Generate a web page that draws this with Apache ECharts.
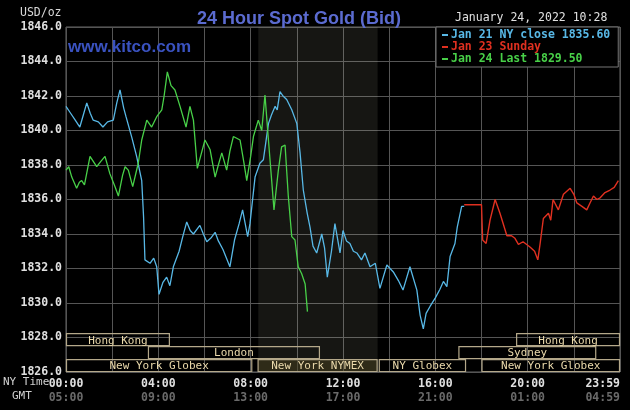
<!DOCTYPE html>
<html>
<head>
<meta charset="utf-8">
<script src="https://cdn.jsdelivr.net/npm/echarts@6/dist/echarts.min.js"></script>
<style>
html,body{margin:0;padding:0;background:#000;}
#c{width:630px;height:410px;}
</style>
</head>
<body>
<div id="c"></div>
<script>
// ---------- DATA ----------
const nyTickLabels  = ['00:00','04:00','08:00','12:00','16:00','20:00','23:59'];
const gmtTickLabels = ['05:00','09:00','13:00','17:00','21:00','01:00','04:59'];

const blueName = 'Jan 21 NY close 1835.60';
const redName = 'Jan 23 Sunday';
const greenName = 'Jan 24 Last 1829.50';

const blueHours = [0,0.2,0.4,0.6,0.75,0.9,1.05,1.18,1.4,1.6,1.8,2.05,2.2,2.34,2.5,2.6,2.85,3.06,3.28,3.36,3.42,3.64,3.8,3.93,4.03,4.2,4.36,4.5,4.65,4.9,5.05,5.23,5.38,5.52,5.8,5.95,6.1,6.3,6.46,6.6,6.8,7.1,7.3,7.5,7.65,7.87,7.97,8.19,8.4,8.55,8.77,8.9,9.06,9.15,9.27,9.4,9.56,9.78,10.0,10.14,10.28,10.45,10.57,10.7,10.86,11.08,11.2,11.32,11.5,11.65,11.87,12.0,12.15,12.3,12.45,12.6,12.8,12.95,13.17,13.4,13.6,13.9,14.18,14.4,14.6,14.9,15.2,15.34,15.48,15.6,15.77,16.0,16.2,16.35,16.5,16.64,16.85,16.95,17.14,17.25];
const blueValues = [1841.4,1841.0,1840.6,1840.2,1840.9,1841.6,1841.0,1840.6,1840.5,1840.2,1840.5,1840.6,1841.6,1842.35,1841.3,1840.8,1839.6,1838.5,1837.1,1835.0,1832.5,1832.3,1832.6,1832.1,1830.5,1831.2,1831.5,1831.0,1832.1,1833.0,1833.8,1834.7,1834.2,1834.0,1834.5,1834.0,1833.55,1833.8,1834.1,1833.6,1833.1,1832.1,1833.65,1834.6,1835.4,1833.85,1834.6,1837.3,1838.1,1838.3,1840.4,1840.9,1841.4,1841.2,1842.25,1842.0,1841.8,1841.2,1840.4,1838.7,1836.55,1835.2,1834.4,1833.3,1832.9,1834.0,1833.2,1831.5,1833.0,1834.6,1832.9,1834.2,1833.6,1833.45,1833.0,1832.9,1832.5,1832.9,1832.1,1832.3,1830.85,1832.2,1831.8,1831.3,1830.75,1832.1,1830.75,1829.3,1828.5,1829.4,1829.8,1830.3,1830.8,1831.25,1830.95,1832.7,1833.45,1834.4,1835.6,1835.6];

const redHours = [17.25,18.0,18.05,18.2,18.37,18.59,18.8,19.1,19.3,19.45,19.6,19.8,20.1,20.3,20.44,20.54,20.68,20.9,21.0,21.1,21.33,21.55,21.84,22.0,22.13,22.35,22.56,22.7,22.85,23.0,23.14,23.35,23.57,23.75,23.93];
const redValues = [1835.7,1835.7,1833.65,1833.45,1834.8,1836.0,1835.2,1833.9,1833.9,1833.75,1833.4,1833.55,1833.25,1833.0,1832.5,1833.45,1834.9,1835.2,1834.8,1836.0,1835.4,1836.3,1836.65,1836.3,1835.8,1835.6,1835.4,1835.8,1836.2,1836.0,1836.1,1836.4,1836.55,1836.7,1837.1];

const greenHours = [0,0.12,0.25,0.46,0.58,0.68,0.8,1.04,1.33,1.5,1.69,1.9,2.12,2.27,2.45,2.56,2.7,2.89,3.13,3.28,3.5,3.71,3.93,4.15,4.25,4.39,4.55,4.72,4.94,5.2,5.37,5.52,5.69,5.85,6.02,6.24,6.46,6.6,6.75,6.96,7.1,7.25,7.54,7.7,7.83,8.0,8.12,8.33,8.48,8.62,8.77,8.91,9.01,9.1,9.2,9.34,9.49,9.63,9.78,9.92,10.06,10.21,10.36,10.46];
const greenValues = [1837.7,1837.9,1837.3,1836.65,1837.0,1837.1,1836.85,1838.5,1837.9,1838.2,1838.5,1837.5,1836.75,1836.2,1837.4,1837.9,1837.7,1836.75,1838.1,1839.45,1840.6,1840.2,1840.8,1841.2,1842.0,1843.4,1842.6,1842.35,1841.4,1840.2,1841.4,1840.6,1837.8,1838.6,1839.45,1838.9,1837.3,1838.0,1838.7,1837.7,1838.8,1839.65,1839.45,1838.2,1837.1,1838.5,1839.65,1840.6,1840.0,1842.05,1839.45,1837.1,1835.4,1836.5,1837.7,1839.05,1839.15,1836.2,1833.85,1833.65,1832.1,1831.7,1831.1,1829.5];

// trading sessions (NY time hours), row 0 = top
const sessionNames = ['Hong Kong','London','New York Globex','New York NYMEX','NY Globex','New York Globex','Sydney','Hong Kong'];
const sessionStart = [0,3.55,0,8.3,13.55,18.0,17.0,19.5];
const sessionEnd   = [4.5,11.0,8.07,13.5,17.33,24,22.97,24];
const sessionRow   = [0,1,2,2,2,2,1,0];
const nymexStart = 8.33, nymexEnd = 13.5;

// ---------- CHART ----------
const mono = '"DejaVu Sans Mono", "Liberation Mono", monospace';
const zip = (a,b) => a.map((h,i)=>[h,b[i]]);
const chart = echarts.init(document.getElementById('c'), null, {renderer:'canvas'});

const sessionData = sessionNames.map((n,i)=>[sessionStart[i],sessionEnd[i],sessionRow[i],n]);

const option = {
  backgroundColor:'#000',
  animation:false,
  title:{
    text:'24 Hour Spot Gold (Bid)', left:294, top:5, textAlign:'center',
    textStyle:{color:'#5b6bd0', fontSize:18, fontWeight:'bold', fontFamily:'"Liberation Sans", Arial, sans-serif'}
  },
  graphic:[
    {type:'text', left:20, top:7, style:{text:'USD/oz', fill:'#d8d8d8', font:'11.5px '+mono}},
    {type:'text', left:455, top:12, style:{text:'January 24, 2022 10:28', fill:'#e0e0e0', font:'11.5px '+mono}},
    {type:'text', left:68, top:39, z:1, style:{text:'www.kitco.com', fill:'#3a52c0', font:'bold 17px "Liberation Sans", Arial, sans-serif'}},
    {type:'text', left:3, top:377, style:{text:'NY Time', fill:'#d0d0d0', font:'11px '+mono}},
    {type:'text', left:12, top:391, style:{text:'GMT', fill:'#d0d0d0', font:'11px '+mono}}
  ],
  legend:{
    orient:'vertical', left:436, top:27, selectedMode:false,
    backgroundColor:'#000', borderColor:'#777', borderWidth:1,
    padding:[2,8,2,6], itemGap:0, itemWidth:6, itemHeight:2, icon:'rect',
    textStyle:{fontFamily:mono, fontSize:11.5, fontWeight:'bold', lineHeight:12, padding:[0,0,0,-2]},
    data:[
      {name:blueName, textStyle:{color:'#58b8e6'}},
      {name:redName, textStyle:{color:'#e03020'}},
      {name:greenName, textStyle:{color:'#48d048'}}
    ]
  },
  grid:{left:66, right:10, top:27, bottom:38, show:true, borderColor:'#666', borderWidth:1},
  xAxis:{
    type:'value', min:0, max:24, interval:2,
    axisLine:{show:false}, axisTick:{show:false},
    splitLine:{show:true, lineStyle:{color:'#555', width:1}},
    axisLabel:{
      margin:5, alignMaxLabel:'right',
      formatter:function(v){
        if (v % 4 !== 0) return '';
        const i = v/4;
        return '{t|'+nyTickLabels[i]+'}\n{g|'+gmtTickLabels[i]+'}';
      },
      rich:{
        t:{color:'#e0e0e0', fontFamily:mono, fontSize:11.5, fontWeight:'bold', lineHeight:14},
        g:{color:'#6a6a6a', fontFamily:mono, fontSize:11.5, fontWeight:'bold', lineHeight:14}
      }
    }
  },
  yAxis:{
    type:'value', min:1826, max:1846, interval:2,
    axisLine:{show:false}, axisTick:{show:false},
    splitLine:{show:true, lineStyle:{color:'#555', width:1}},
    axisLabel:{margin:4, color:'#e0e0e0', fontFamily:mono, fontSize:11.5, fontWeight:'bold',
      formatter:v=>v.toFixed(1)}
  },
  series:[
    {
      type:'custom', name:'sessions', z:1, silent:true,
      data:sessionData,
      renderItem:function(params, api){
        const s = api.value(0), e = api.value(1), row = api.value(2);
        const name = sessionNames[params.dataIndex];
        const base = 1826 + (2-row)*0.75;
        const p1 = api.coord([s, base+0.75]);
        const p2 = api.coord([e, base]);
        const nymex = name === 'New York NYMEX';
        return {
          type:'group',
          children:[
            {type:'rect', shape:{x:p1[0]+0.5, y:p1[1]+0.5, width:p2[0]-p1[0]-1, height:p2[1]-p1[1]-1},
             style:{fill: nymex ? 'rgba(70,62,30,0.55)' : 'rgba(0,0,0,0)', stroke:'#b4a88a', lineWidth:1.2}},
            {type:'text', style:{text:name, x:(p1[0]+p2[0])/2, y:(p1[1]+p2[1])/2+1, align:'center', verticalAlign:'middle',
              fill:'#ead9ab', font:'11px '+mono}}
          ]
        };
      }
    },
    {
      type:'line', name:blueName, data:zip(blueHours, blueValues), showSymbol:false, symbol:'none',
      lineStyle:{color:'#58b8e6', width:1.3}, itemStyle:{color:'#58b8e6'}, z:3,
      markArea:{silent:true, itemStyle:{color:'rgba(220,220,190,0.10)'}, data:[[{xAxis:nymexStart},{xAxis:nymexEnd}]]}
    },
    {
      type:'line', name:redName, data:zip(redHours, redValues), showSymbol:false, symbol:'none',
      lineStyle:{color:'#e03020', width:1.4}, itemStyle:{color:'#e03020'}, z:3
    },
    {
      type:'line', name:greenName, data:zip(greenHours, greenValues), showSymbol:false, symbol:'none',
      lineStyle:{color:'#48d048', width:1.3}, itemStyle:{color:'#48d048'}, z:3
    }
  ]
};
chart.setOption(option);
</script>
</body>
</html>
